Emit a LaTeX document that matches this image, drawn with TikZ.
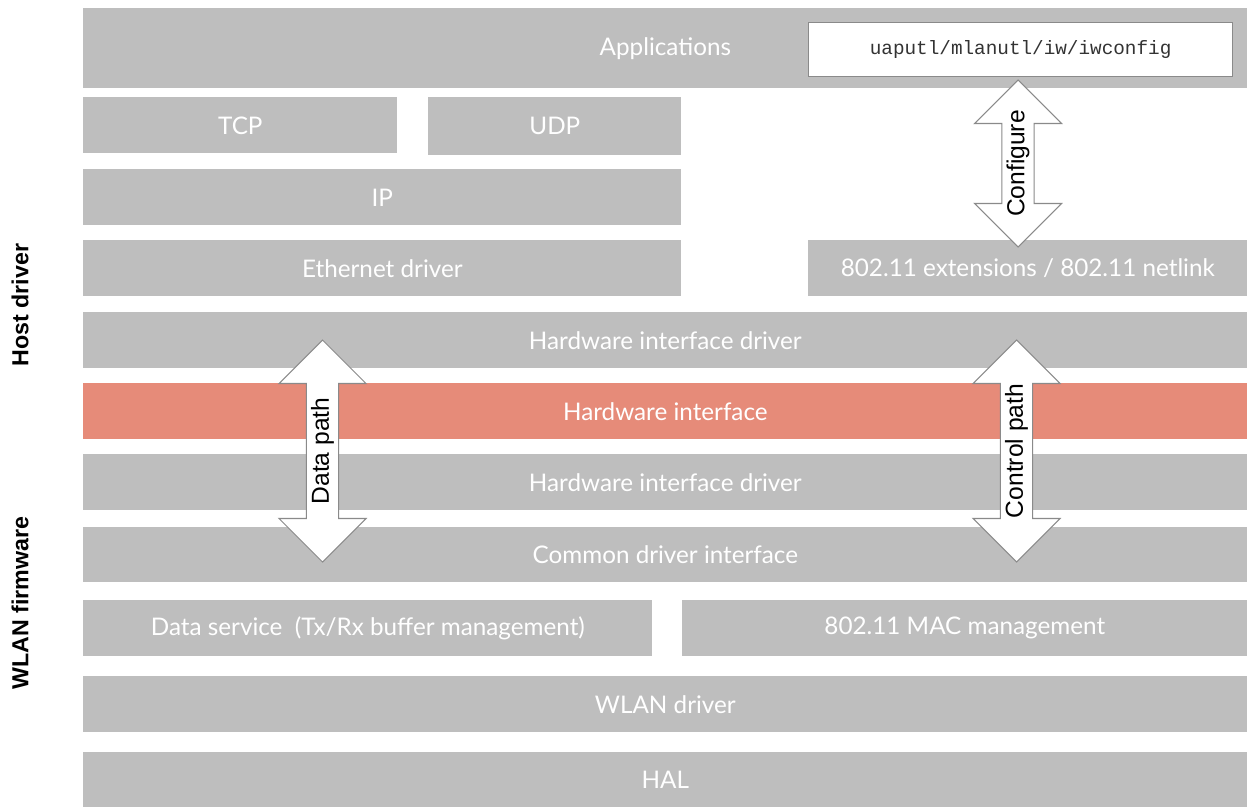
\documentclass[tikz,border=0pt]{standalone}
\usepackage{fontspec}
\setmainfont{Lato}
\newfontfamily\labelfont{Liberation Sans}
\newfontfamily\codefont{Liberation Mono}
\usetikzlibrary{shapes.arrows, positioning}
\definecolor{LayerGray}{HTML}{BEBEBE}
\definecolor{IfaceRed}{HTML}{E68B79}
\definecolor{EdgeGray}{HTML}{8A8A8A}
\tikzset{
  % Box styles
  layerbox/.style={rectangle, fill=LayerGray, text=white, anchor=north west, inner sep=0pt, minimum height=1.12cm, font=\fontsize{13.8}{16}\selectfont},
  fullbox/.style={layerbox, minimum width=23.28cm},
  ifacebox/.style={fullbox, fill=IfaceRed},
  toolbox/.style={rectangle, draw=EdgeGray, fill=white, text=black!80, anchor=north west, line width=0.7pt, minimum width=8.48cm, minimum height=1.08cm, font=\codefont\fontsize{11}{13}\selectfont},
  % Arrow styles
  patharrow/.style={double arrow, draw=EdgeGray, fill=white, rotate=90, line width=0.6pt, minimum width=1.74cm, double arrow head extend=0.47cm, inner sep=1pt, text=black, font=\labelfont\fontsize{14}{16}\selectfont},
  % Label styles
  sidelabel/.style={rotate=90, font=\labelfont\bfseries\fontsize{13.2}{15}\selectfont}
}
\begin{document}
\begin{tikzpicture}
  \useasboundingbox (0,0) rectangle (24.94,-16.14);

  % Host side
  \node[layerbox, minimum width=23.28cm, minimum height=1.6cm] (app) at (1.66,-0.16) {Applications};
  \node[toolbox] (tool) at (16.16,-0.44) {uaputl/mlanutl/iw/iwconfig};
  \node[layerbox, minimum width=6.28cm] (tcp) at (1.66,-1.94) {TCP};
  \node[layerbox, minimum width=5.06cm, minimum height=1.16cm] (udp) at (8.56,-1.94) {UDP};
  \node[layerbox, minimum width=11.96cm] (ip) at (1.66,-3.38) {IP};
  \node[layerbox, minimum width=11.96cm] (eth) at (1.66,-4.80) {Ethernet driver};
  \node[layerbox, minimum width=8.78cm] (ext) at (16.16,-4.80) {802.11 extensions / 802.11 netlink};
  \node[fullbox] (hidhost) at (1.66,-6.24) {Hardware interface driver};

  % Interface
  \node[ifacebox] (hwif) at (1.66,-7.66) {Hardware interface};

  % Firmware side
  \node[fullbox] (hidfw) at (1.66,-9.08) {Hardware interface driver};
  \node[fullbox, minimum height=1.10cm] (cdi) at (1.66,-10.54) {Common driver interface};
  \node[layerbox, minimum width=11.38cm] (dsvc) at (1.66,-12.0) {Data service~ (Tx/Rx buffer management)};
  \node[layerbox, minimum width=11.30cm] (mac) at (13.64,-12.0) {802.11 MAC management};
  \node[fullbox] (wlan) at (1.66,-13.52) {WLAN driver};
  \node[fullbox, minimum height=1.10cm] (hal) at (1.66,-15.04) {HAL};

  % Paths
  \node[patharrow, minimum height=3.34cm] (cfg) at (20.36,-3.27) {Configure};
  \node[patharrow, minimum height=4.44cm] (dpath) at (6.45,-9.02) {Data path};
  \node[patharrow, minimum height=4.44cm] (cpath) at (20.33,-9.02) {Control path};

  % Side labels
  \node[sidelabel] (host) at (0.40,-6.10) {Host driver};
  \node[sidelabel] (fw) at (0.40,-12.06) {WLAN firmware};
\end{tikzpicture}
\end{document}
